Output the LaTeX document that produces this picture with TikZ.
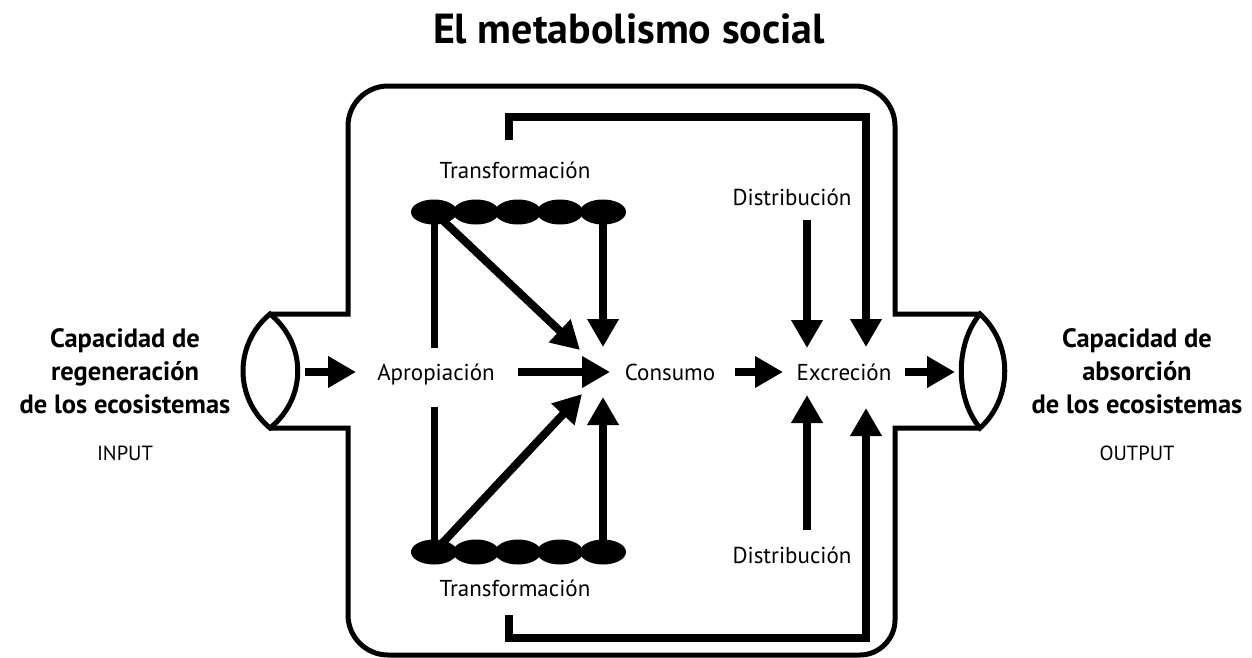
\documentclass[tikz,border=0pt]{standalone}
\usepackage{fontspec}
\setmainfont{PT Sans}
\usetikzlibrary{arrows.meta,shapes.geometric}
\tikzset{
 lbl/.style={font=\fontsize{23}{26}\selectfont, inner sep=0pt},
 rowlbl/.style={lbl, anchor=base},
 big/.style={font=\bfseries\fontsize{26.5}{33}\selectfont, align=center, inner sep=0pt},
 io/.style={font=\fontsize{20.5}{22}\selectfont, inner sep=0pt},
 flow/.style={line width=8pt, -{Triangle[length=28pt,width=30pt]}},
 bar/.style={line width=7pt},
 frame/.style={line width=5pt},
 blob/.style={ellipse, fill=black, minimum width=46pt, minimum height=25pt, inner sep=0pt},
}
\begin{document}
\begin{tikzpicture}[x=1pt,y=-1pt]
\useasboundingbox (0,0) rectangle (1252,657);
% title
\node[font=\bfseries\fontsize{42}{46}\selectfont, anchor=base, inner sep=0pt] (title) at (629,43) {El metabolismo social};
% side labels
\node[big] (inlbl) at (125,371) {Capacidad de\\regeneración\\de los ecosistemas};
\node[io] (input) at (125,453) {INPUT};
\node[big] (outlbl) at (1137,371) {Capacidad de\\absorción\\de los ecosistemas};
\node[io] (output) at (1137,453) {OUTPUT};
% container
\draw[frame] (270,314) -- (348,314) -- (348,126) .. controls (348,104) and (366,86) .. (388,86) -- (855,86) .. controls (877,86) and (895,104) .. (895,126) -- (895,314) -- (980,314);
\draw[frame] (980,428) -- (895,428) -- (895,620) .. controls (895,639) and (879,655) .. (860,655) -- (388,655) .. controls (366,655) and (348,637) .. (348,615) -- (348,428) -- (270,428);
% lenses
\draw[frame] (270,314) .. controls (234,344) and (234,398) .. (270,428) .. controls (307,398) and (307,344) .. (270,314) -- cycle;
\draw[frame] (980,314) .. controls (955,344) and (955,398) .. (980,428) .. controls (1013,398) and (1013,344) .. (980,314) -- cycle;
% main labels
\node[rowlbl] (apro) at (436,380) {Apropiación};
\node[rowlbl] (cons) at (670,380) {Consumo};
\node[rowlbl] (excr) at (844,380) {Excreción};
\node[lbl] (dist1) at (792,197) {Distribución};
\node[lbl] (dist2) at (792,555) {Distribución};
\node[lbl] (trans1) at (515,170) {Transformación};
\node[lbl] (trans2) at (515,588) {Transformación};
% ellipse chains
\foreach \i/\x in {1/434,2/476,3/518,4/560,5/603}{
  \node[blob] (t\i) at (\x,212) {};
  \node[blob] (b\i) at (\x,552) {};
}
% coordinates
\coordinate (lensLout) at (305,372);
\coordinate (aproIn) at (356,372);
\coordinate (aproOut) at (518,372);
\coordinate (consIn) at (610,372);
\coordinate (consOut) at (735,372);
\coordinate (excrIn) at (783,372);
\coordinate (excrOut) at (905,372);
\coordinate (lensRin) at (955,372);
\coordinate (tdiagTip) at (580,350);
\coordinate (tvertTip) at (603,347);
\coordinate (bdiagTip) at (582,394);
\coordinate (bvertTip) at (603,397);
\coordinate (apTop) at (434,348);
\coordinate (apBot) at (434,407);
\coordinate (d1s) at (807,220);
\coordinate (d1e) at (807,348);
\coordinate (d2s) at (807,530);
\coordinate (d2e) at (807,395);
\coordinate (brT0) at (509,140);
\coordinate (brT1) at (866,117);
\coordinate (brTtip) at (866,347);
\coordinate (brB0) at (509,615);
\coordinate (brB1) at (866,638);
\coordinate (brBtip) at (866,408);
% lines from chains
\draw[bar] (t1.center) -- (apTop);
\draw[bar] (apBot) -- (b1.center);
% arrows
\draw[flow] (lensLout) -- (aproIn);
\draw[flow] (aproOut) -- (consIn);
\draw[flow] (consOut) -- (excrIn);
\draw[flow] (excrOut) -- (lensRin);
\draw[flow] (t1.center) -- (tdiagTip);
\draw[flow] (t5.center) -- (tvertTip);
\draw[flow] (b1.center) -- (bdiagTip);
\draw[flow] (b5.center) -- (bvertTip);
\draw[flow] (d1s) -- (d1e);
\draw[flow] (d2s) -- (d2e);
\draw[flow] (brT0) |- (brT1) -- (brTtip);
\draw[flow] (brB0) |- (brB1) -- (brBtip);
\end{tikzpicture}
\end{document}
